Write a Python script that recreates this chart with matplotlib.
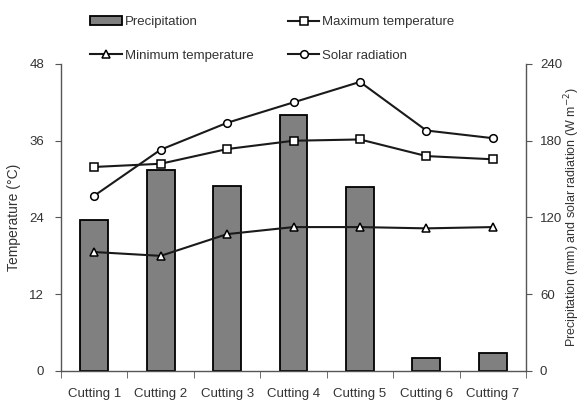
import matplotlib
matplotlib.use("Agg")
import matplotlib.pyplot as plt
import numpy as np

plt.rcParams['font.family'] = ['Liberation Sans', 'DejaVu Sans']

cuttings = ['Cutting 1', 'Cutting 2', 'Cutting 3', 'Cutting 4', 'Cutting 5', 'Cutting 6', 'Cutting 7']
precipitation = [118, 157, 145, 200, 144, 10, 14]
solar_radiation = [137, 173, 194, 210, 226, 188, 182]
max_temp = [31.9, 32.4, 34.7, 36.0, 36.2, 33.6, 33.1]
min_temp = [18.6, 18.0, 21.4, 22.5, 22.5, 22.3, 22.5]

x = np.arange(len(cuttings))
line_col = '#1a1a1a'
spine_col = '#555555'
txt_col = '#333333'

fig = plt.figure(figsize=(5.82, 4.05), dpi=100)
ax = fig.add_axes([0.1048, 0.084, 0.7990, 0.758])
ax2 = ax.twinx()

# bars belong to the right axis but sit behind the temperature lines
ax.set_zorder(ax2.get_zorder() + 1)
ax.patch.set_visible(False)

bars = ax2.bar(x, precipitation, width=0.42, color='#808080', edgecolor='black',
               linewidth=1.3, label='Precipitation')
l_sr, = ax2.plot(x, solar_radiation, color=line_col, lw=1.5, marker='o', ms=5.5,
                 mfc='white', mec='black', mew=1.1, label='Solar radiation')
l_max, = ax.plot(x, max_temp, color=line_col, lw=1.5, marker='s', ms=5.5,
                 mfc='white', mec='black', mew=1.1, label='Maximum temperature')
l_min, = ax.plot(x, min_temp, color=line_col, lw=1.5, marker='^', ms=6,
                 mfc='white', mec='black', mew=1.1, label='Minimum temperature')

ax.set_xlim(-0.5, 6.5)
ax.set_ylim(0, 48)
ax2.set_ylim(0, 240)
ax.set_yticks([0, 12, 24, 36, 48])
ax2.set_yticks([0, 60, 120, 180, 240])

ax.set_xticks(x)
ax.set_xticklabels(cuttings)
ax.set_xticks(np.arange(-0.5, 7, 1), minor=True)
ax.tick_params(axis='x', which='major', length=0, pad=12, labelsize=9.5, labelcolor=txt_col)
ax.tick_params(axis='x', which='minor', length=5, color=spine_col, direction='out')
ax.tick_params(axis='y', length=4, color=spine_col, labelsize=9.5, labelcolor=txt_col, pad=8)
ax2.tick_params(axis='y', length=4, color=spine_col, labelsize=9.5, labelcolor=txt_col, pad=6)

for a in (ax, ax2):
    a.spines['top'].set_visible(False)
    for s in ('left', 'right', 'bottom'):
        a.spines[s].set_color(spine_col)
        a.spines[s].set_linewidth(1.0)
ax.spines['right'].set_visible(False)
ax2.spines['left'].set_visible(False)
ax2.spines['bottom'].set_visible(False)

ax.set_ylabel('Temperature (°C)', fontsize=10, color=txt_col, labelpad=6)
ax2.set_ylabel('Precipitation (mm) and solar radiation (W m$^{-2}$)', fontsize=9,
               color=txt_col)
ax2.yaxis.set_label_coords(1.078, 0.5)

fig.legend([bars, l_min, l_max, l_sr],
           ['Precipitation', 'Minimum temperature', 'Maximum temperature', 'Solar radiation'],
           ncol=2, loc='upper left', bbox_to_anchor=(0.135, 0.99), frameon=False,
           fontsize=9.5, handlelength=2.4, handletextpad=0.2, columnspacing=2.6,
           labelspacing=1.6, labelcolor=txt_col)

fig.savefig('out.png', dpi=100)
